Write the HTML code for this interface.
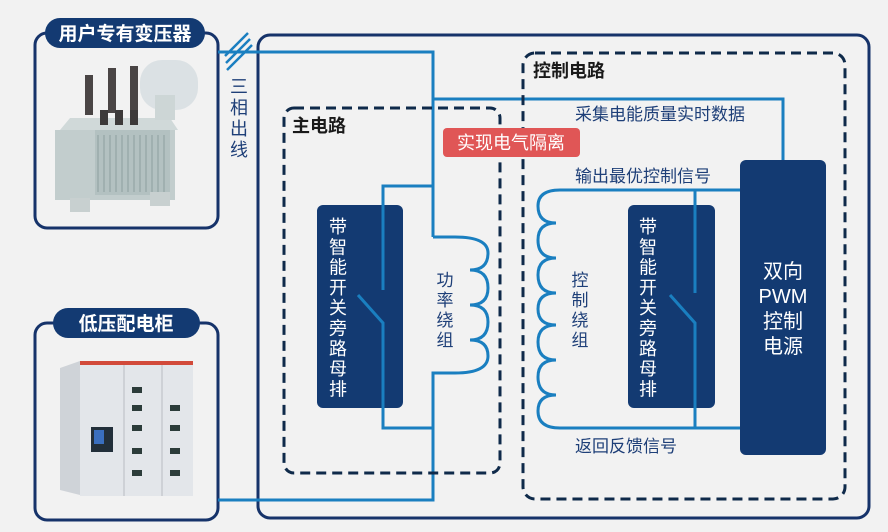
<!DOCTYPE html>
<html><head><meta charset="utf-8"><style>
html,body{margin:0;padding:0;background:#f2f2f2;}
svg{display:block;}
text{font-family:"Liberation Sans","Noto Sans CJK SC",sans-serif;}
</style></head><body>
<svg width="888" height="532" viewBox="0 0 888 532" xmlns="http://www.w3.org/2000/svg">
<rect width="888" height="532" fill="#f2f2f2"/>
<rect x="258" y="35" width="611" height="483" rx="12" fill="none" stroke="#16336a" stroke-width="3"/>
<rect x="35" y="33" width="183" height="195" rx="12" fill="none" stroke="#16336a" stroke-width="3"/>
<rect x="45" y="18" width="160" height="30" rx="15" fill="#133a72"/>
<text x="125" y="40" font-size="19" font-weight="bold" fill="#fff" text-anchor="middle">用户专有变压器</text>
<g>
<rect x="55" y="130" width="120" height="70" fill="#c2cdcd"/>
<rect x="95" y="130" width="75" height="65" fill="#b3c1c1"/>
<g stroke="#9aabab" stroke-width="1.5">
<line x1="98" y1="135" x2="98" y2="192"/><line x1="104" y1="135" x2="104" y2="192"/><line x1="110" y1="135" x2="110" y2="192"/><line x1="116" y1="135" x2="116" y2="192"/><line x1="122" y1="135" x2="122" y2="192"/><line x1="128" y1="135" x2="128" y2="192"/><line x1="134" y1="135" x2="134" y2="192"/><line x1="140" y1="135" x2="140" y2="192"/><line x1="146" y1="135" x2="146" y2="192"/><line x1="152" y1="135" x2="152" y2="192"/><line x1="158" y1="135" x2="158" y2="192"/><line x1="164" y1="135" x2="164" y2="192"/>
</g>
<polygon points="70,118 170,118 178,130 60,130" fill="#d0d9d9"/>
<rect x="140" y="60" width="58" height="50" rx="22" fill="#dbe1e4"/>
<rect x="155" y="95" width="20" height="25" fill="#cdd6d6"/>
<rect x="85" y="75" width="8" height="40" fill="#4a4545"/>
<rect x="108" y="68" width="8" height="45" fill="#4a4545"/>
<rect x="130" y="66" width="8" height="45" fill="#4a4545"/>
<rect x="100" y="110" width="8" height="15" fill="#3d3a3a"/>
<rect x="115" y="110" width="8" height="15" fill="#3d3a3a"/>
<rect x="130" y="110" width="8" height="15" fill="#3d3a3a"/>
<rect x="70" y="198" width="20" height="14" fill="#c8d0d0"/>
<rect x="150" y="192" width="20" height="14" fill="#c8d0d0"/>
</g>
<rect x="35" y="323" width="183" height="197" rx="12" fill="none" stroke="#16336a" stroke-width="3"/>
<rect x="53" y="308" width="147" height="30" rx="15" fill="#133a72"/>
<text x="126" y="330" font-size="19" font-weight="bold" fill="#fff" text-anchor="middle">低压配电柜</text>
<g>
<polygon points="60,368 80,361 80,495 60,490" fill="#cfd3d8"/>
<rect x="80" y="361" width="113" height="135" fill="#e3e6ea"/>
<rect x="80" y="361" width="113" height="4" fill="#d24a3a"/>
<line x1="124" y1="365" x2="124" y2="496" stroke="#b8bcc2"/>
<line x1="162" y1="365" x2="162" y2="496" stroke="#b8bcc2"/>
<rect x="91" y="427" width="22" height="25" fill="#222f3a"/>
<rect x="94" y="430" width="10" height="14" fill="#3a6fbf"/>
<g fill="#2c3c3a">
<rect x="132" y="387" width="10" height="6"/><rect x="132" y="405" width="10" height="6"/><rect x="132" y="425" width="10" height="6"/><rect x="132" y="448" width="10" height="6"/><rect x="132" y="470" width="10" height="6"/>
<rect x="170" y="405" width="10" height="6"/><rect x="170" y="425" width="10" height="6"/><rect x="170" y="448" width="10" height="6"/><rect x="170" y="470" width="10" height="6"/>
</g>
</g>
<g fill="none" stroke="#1a7fc0" stroke-width="3">
<polyline points="218,52 433,52 433,237"/>
<polyline points="433,99 783,99 783,161"/>
<polyline points="433,186 383,186 383,290"/>
<polyline points="358,295 383,323 383,428 433,428"/>
<path d="M433,237 L455,237 Q488,237 488,253 Q488,270 470,270 Q488,270 488,288 Q488,305 470,305 Q488,305 488,322 Q488,340 470,340 Q488,340 488,356 Q488,373 455,373 L433,373 L433,500 L218,500"/>
<path d="M740,190 L560,190 Q538,190 538,206 Q538,223 556,223 Q538,223 538,240 Q538,258 556,258 Q538,258 538,275 Q538,293 556,293 Q538,293 538,309 Q538,325 556,325 Q538,325 538,342 Q538,360 556,360 Q538,360 538,377 Q538,395 556,395 Q538,395 538,411 Q538,428 560,428 L740,428"/>
</g>
<g stroke="#1a7fc0" stroke-width="2.5">
<line x1="225" y1="56" x2="248" y2="33"/>
<line x1="226" y1="63" x2="250" y2="39"/>
<line x1="227" y1="70" x2="252" y2="45"/>
</g>
<text font-size="18" fill="#1e3f78" text-anchor="middle"><tspan x="239" y="93">三</tspan><tspan x="239" y="114">相</tspan><tspan x="239" y="135">出</tspan><tspan x="239" y="156">线</tspan></text>
<rect x="284" y="108" width="216" height="365" rx="10" fill="none" stroke="#0f2a4a" stroke-width="3" stroke-dasharray="10,6"/>
<rect x="523" y="53" width="322" height="446" rx="12" fill="none" stroke="#0f2a4a" stroke-width="3" stroke-dasharray="10,6"/>
<text x="292" y="132" font-size="18" font-weight="bold" fill="#1a1a1a">主电路</text>
<text x="533" y="77" font-size="18" font-weight="bold" fill="#1a1a1a">控制电路</text>
<rect x="443" y="128" width="137" height="29" rx="4" fill="#e05656"/>
<text x="511" y="149" font-size="18" fill="#fff" text-anchor="middle">实现电气隔离</text>
<text x="575" y="120" font-size="17" fill="#1e3f78">采集电能质量实时数据</text>
<text x="575" y="182" font-size="17" fill="#1e3f78">输出最优控制信号</text>
<text x="575" y="452" font-size="17" fill="#1e3f78">返回反馈信号</text>
<text font-size="17" fill="#1e3f78" text-anchor="middle"><tspan x="445" y="286">功</tspan><tspan x="445" y="306">率</tspan><tspan x="445" y="326">绕</tspan><tspan x="445" y="346">组</tspan></text>
<text font-size="17" fill="#1e3f78" text-anchor="middle"><tspan x="580" y="286">控</tspan><tspan x="580" y="306">制</tspan><tspan x="580" y="326">绕</tspan><tspan x="580" y="346">组</tspan></text>
<rect x="317" y="205" width="86" height="203" rx="6" fill="#133a72"/>
<text font-size="18" fill="#fff" text-anchor="middle"><tspan x="338" y="233">带</tspan><tspan x="338" y="253.3">智</tspan><tspan x="338" y="273.6">能</tspan><tspan x="338" y="293.9">开</tspan><tspan x="338" y="314.2">关</tspan><tspan x="338" y="334.5">旁</tspan><tspan x="338" y="354.8">路</tspan><tspan x="338" y="375.1">母</tspan><tspan x="338" y="395.4">排</tspan></text>
<rect x="628" y="205" width="87" height="203" rx="6" fill="#133a72"/>
<text font-size="18" fill="#fff" text-anchor="middle"><tspan x="648" y="233">带</tspan><tspan x="648" y="253.3">智</tspan><tspan x="648" y="273.6">能</tspan><tspan x="648" y="293.9">开</tspan><tspan x="648" y="314.2">关</tspan><tspan x="648" y="334.5">旁</tspan><tspan x="648" y="354.8">路</tspan><tspan x="648" y="375.1">母</tspan><tspan x="648" y="395.4">排</tspan></text>
<g fill="none" stroke="#1a7fc0" stroke-width="3">
<line x1="383" y1="205" x2="383" y2="290"/>
<polyline points="358,295 383,323 383,408"/>
<line x1="695" y1="190" x2="695" y2="293"/>
<polyline points="670,295 695,323 695,428"/>
</g>
<rect x="740" y="160" width="86" height="295" rx="6" fill="#133a72"/>
<text font-size="20" fill="#fff" text-anchor="middle"><tspan x="783" y="278">双向</tspan><tspan x="783" y="303">PWM</tspan><tspan x="783" y="328">控制</tspan><tspan x="783" y="353">电源</tspan></text>
</svg>
</body></html>
